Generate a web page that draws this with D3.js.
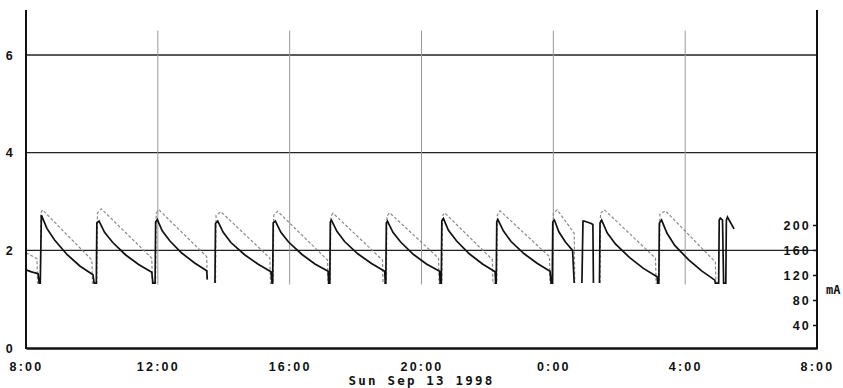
<!DOCTYPE html>
<html>
<head>
<meta charset="utf-8">
<script src="https://cdn.jsdelivr.net/npm/d3@7"></script>
<style>
  body { margin: 0; background: #fff; }
  svg { display: block; font-family: "DejaVu Sans Mono", monospace; }
  .tick text, .lbl { font-size: 12.5px; font-weight: bold; letter-spacing: 2.2px; fill: #111; }
  .unit { font-size: 12px; font-weight: bold; letter-spacing: 0; fill: #111; }
</style>
</head>
<body>
<div id="chart"></div>
<script>
// left scale values, right scale (mA) values, time ticks
const leftTicks = [0, 2, 4, 6]
const rightTicks = [40, 80, 120, 160, 200]
const dateLabel = 'Sun Sep 13 1998'
const timeSpan = ['13 08:00', '14 08:00']

// dark trace, null = gap
const solidTrace = [
  ['13 08:00',1.60],['13 08:10',1.56],['13 08:22',1.52],['13 08:24',1.33],['13 08:26',1.33],
  ['13 08:28',2.72],['13 08:38',2.45],['13 08:52',2.21],['13 09:15',1.91],['13 09:38',1.68],['13 10:02',1.50],['13 10:04',1.33],['13 10:08',1.33],
  ['13 10:09',2.56],['13 10:13',2.60],['13 10:23',2.37],['13 10:38',2.16],['13 11:01',1.91],['13 11:25',1.71],['13 11:49',1.55],['13 11:51',1.33],['13 11:55',1.33],
  ['13 11:56',2.58],['13 11:59',2.63],['13 12:08',2.40],['13 12:22',2.19],['13 12:44',1.94],['13 13:07',1.74],['13 13:29',1.58],['13 13:30',1.40],['13 13:37',null],['13 13:44',1.33],
  ['13 13:45',2.55],['13 13:49',2.60],['13 13:59',2.37],['13 14:13',2.16],['13 14:38',1.91],['13 15:02',1.72],['13 15:26',1.56],['13 15:28',1.33],['13 15:29',1.33],
  ['13 15:30',2.56],['13 15:34',2.60],['13 15:44',2.37],['13 15:58',2.17],['13 16:22',1.92],['13 16:46',1.72],['13 17:10',1.57],['13 17:11',1.33],['13 17:13',1.33],
  ['13 17:14',2.58],['13 17:16',2.62],['13 17:26',2.39],['13 17:40',2.18],['13 18:04',1.93],['13 18:29',1.73],['13 18:53',1.57],['13 18:54',1.33],['13 18:55',1.33],
  ['13 18:56',2.56],['13 18:58',2.60],['13 19:08',2.37],['13 19:22',2.17],['13 19:45',1.92],['13 20:09',1.72],['13 20:33',1.57],['13 20:34',1.33],['13 20:36',1.33],
  ['13 20:37',2.60],['13 20:40',2.65],['13 20:49',2.41],['13 21:04',2.19],['13 21:27',1.93],['13 21:51',1.72],['13 22:14',1.56],['13 22:15',1.33],['13 22:16',1.33],
  ['13 22:17',2.58],['13 22:19',2.63],['13 22:29',2.40],['13 22:43',2.18],['13 23:07',1.93],['13 23:31',1.73],['13 23:54',1.57],['13 23:56',1.33],['13 23:58',1.33],
  ['13 23:59',2.58],['14 00:02',2.62],['14 00:10',2.38],['14 00:22',2.17],['14 00:35',2.00],['14 00:38',1.33],['14 00:45',null],['14 00:52',1.33],
  ['14 00:54',2.60],['14 00:56',2.60],['14 01:09',2.55],['14 01:12',2.53],['14 01:13',1.33],['14 01:18',null],['14 01:24',1.33],
  ['14 01:25',2.56],['14 01:28',2.62],['14 01:38',2.36],['14 01:53',2.13],['14 02:19',1.85],['14 02:44',1.63],['14 03:09',1.46],['14 03:10',1.33],['14 03:12',1.33],
  ['14 03:13',2.56],['14 03:17',2.62],['14 03:27',2.35],['14 03:41',2.10],['14 04:06',1.81],['14 04:30',1.58],['14 04:54',1.39],['14 04:55',1.33],['14 05:01',1.33],
  ['14 05:02',2.62],['14 05:04',2.66],['14 05:08',2.62],['14 05:10',1.33],['14 05:14',1.33],
  ['14 05:15',2.62],['14 05:17',2.68],['14 05:22',2.58],['14 05:29',2.44]
]

// light dashed trace
const dashTrace = [
  ['13 08:00',1.95],['13 08:20',1.83],['13 08:21',1.33],['13 08:26',1.33],['13 08:27',2.76],['13 08:30',2.83],
  ['13 10:00',1.80],['13 10:01',1.33],['13 10:09',1.33],['13 10:10',2.76],['13 10:17',2.85],
  ['13 11:49',1.84],['13 11:50',1.33],['13 11:56',1.33],['13 11:57',2.76],['13 12:02',2.83],
  ['13 13:29',1.87],['13 13:30',1.40],['13 13:37',null],['13 13:45',1.33],['13 13:46',2.72],['13 13:55',2.79],
  ['13 15:24',1.84],['13 15:25',1.33],['13 15:30',1.33],['13 15:31',2.72],['13 15:38',2.80],
  ['13 17:09',1.80],['13 17:10',1.33],['13 17:14',1.33],['13 17:15',2.70],['13 17:19',2.76],
  ['13 18:49',1.80],['13 18:50',1.33],['13 18:56',1.33],['13 18:57',2.70],['13 19:02',2.77],
  ['13 20:31',1.84],['13 20:32',1.33],['13 20:37',1.33],['13 20:38',2.70],['13 20:42',2.77],
  ['13 22:09',1.81],['13 22:10',1.33],['13 22:17',1.33],['13 22:18',2.72],['13 22:23',2.81],
  ['13 23:53',1.87],['13 23:54',1.33],['13 23:59',1.33],['14 00:00',2.76],['14 00:07',2.83],
  ['14 00:38',2.35],['14 00:39',1.33],['14 01:00',null],['14 01:25',1.33],['14 01:26',2.76],['14 01:33',2.83],
  ['14 03:06',1.84],['14 03:07',1.33],['14 03:13',1.33],['14 03:14',2.74],['14 03:24',2.81],
  ['14 04:55',1.76],['14 04:56',1.33]
]

const parse = d3.timeParse('%d %H:%M')
const width = 843
const height = 388
const padLeft = 26, padRight = 817, padTop = 10, padBottom = 348

const x = d3.scaleTime().domain(timeSpan.map(parse)).range([padLeft, padRight])
const y = d3.scaleLinear().domain([0, 6]).range([padBottom, 55])
const yR = d3.scaleLinear().domain([0, 200]).range([350, 225])

const svg = d3.select('#chart').append('svg')
  .attr('width', width)
  .attr('height', height)

// horizontal grid
svg.append('g').selectAll('line')
  .data(leftTicks.filter(d => d > 0))
  .enter().append('line')
    .attr('x1', padLeft).attr('x2', padRight)
    .attr('y1', d => y(d)).attr('y2', d => y(d))
    .attr('stroke', '#222').attr('stroke-width', 1.3)

// vertical grid
const hours = x.ticks(d3.timeHour.every(4)).slice(1, -1)
svg.append('g').selectAll('line')
  .data(hours)
  .enter().append('line')
    .attr('x1', d => x(d)).attr('x2', d => x(d))
    .attr('y1', y(6.5)).attr('y2', y(1.3))
    .attr('stroke', '#999').attr('stroke-width', 1)

const line = d3.line()
  .defined(d => d[1] != null)
  .x(d => x(parse(d[0])))
  .y(d => y(d[1]))

svg.append('path')
  .datum(dashTrace)
  .attr('d', line)
  .attr('fill', 'none')
  .attr('stroke', '#8a8a8a')
  .attr('stroke-width', 1.2)
  .attr('stroke-dasharray', '3,2')

svg.append('path')
  .datum(solidTrace)
  .attr('d', line)
  .attr('fill', 'none')
  .attr('stroke', '#111')
  .attr('stroke-width', 1.7)

// frame
svg.append('line').attr('x1', padLeft).attr('x2', padLeft).attr('y1', padTop).attr('y2', padBottom + 1)
  .attr('stroke', '#111').attr('stroke-width', 2)
svg.append('line').attr('x1', padRight).attr('x2', padRight).attr('y1', padTop).attr('y2', padBottom + 1)
  .attr('stroke', '#111').attr('stroke-width', 2)

// axes
const gx = svg.append('g')
  .attr('transform', `translate(0,${padBottom})`)
  .call(d3.axisBottom(x).ticks(d3.timeHour.every(4)).tickFormat(d3.timeFormat('%-H:%M')).tickSize(0).tickPadding(14))
gx.select('.domain').attr('stroke', '#111').attr('stroke-width', 2.5)

const gl = svg.append('g')
  .attr('transform', `translate(${padLeft},0)`)
  .call(d3.axisLeft(y).tickValues(leftTicks).tickFormat(d3.format('d')).tickSize(0).tickPadding(11))
gl.select('.domain').remove()

const gr = svg.append('g')
  .attr('transform', `translate(${padRight},0)`)
  .call(d3.axisLeft(yR).tickValues(rightTicks).tickSize(4).tickPadding(2))
gr.select('.domain').remove()
gr.selectAll('.tick line').attr('stroke', '#111').attr('stroke-width', 1.5)

svg.selectAll('.tick text').attr('font-family', null).attr('font-size', null)

svg.append('text').attr('class', 'unit')
  .attr('x', 826).attr('y', 294)
  .text('mA')

svg.append('text').attr('class', 'lbl')
  .attr('x', (padLeft + padRight) / 2).attr('y', 385)
  .attr('text-anchor', 'middle')
  .text(dateLabel)
</script>
</body>
</html>
